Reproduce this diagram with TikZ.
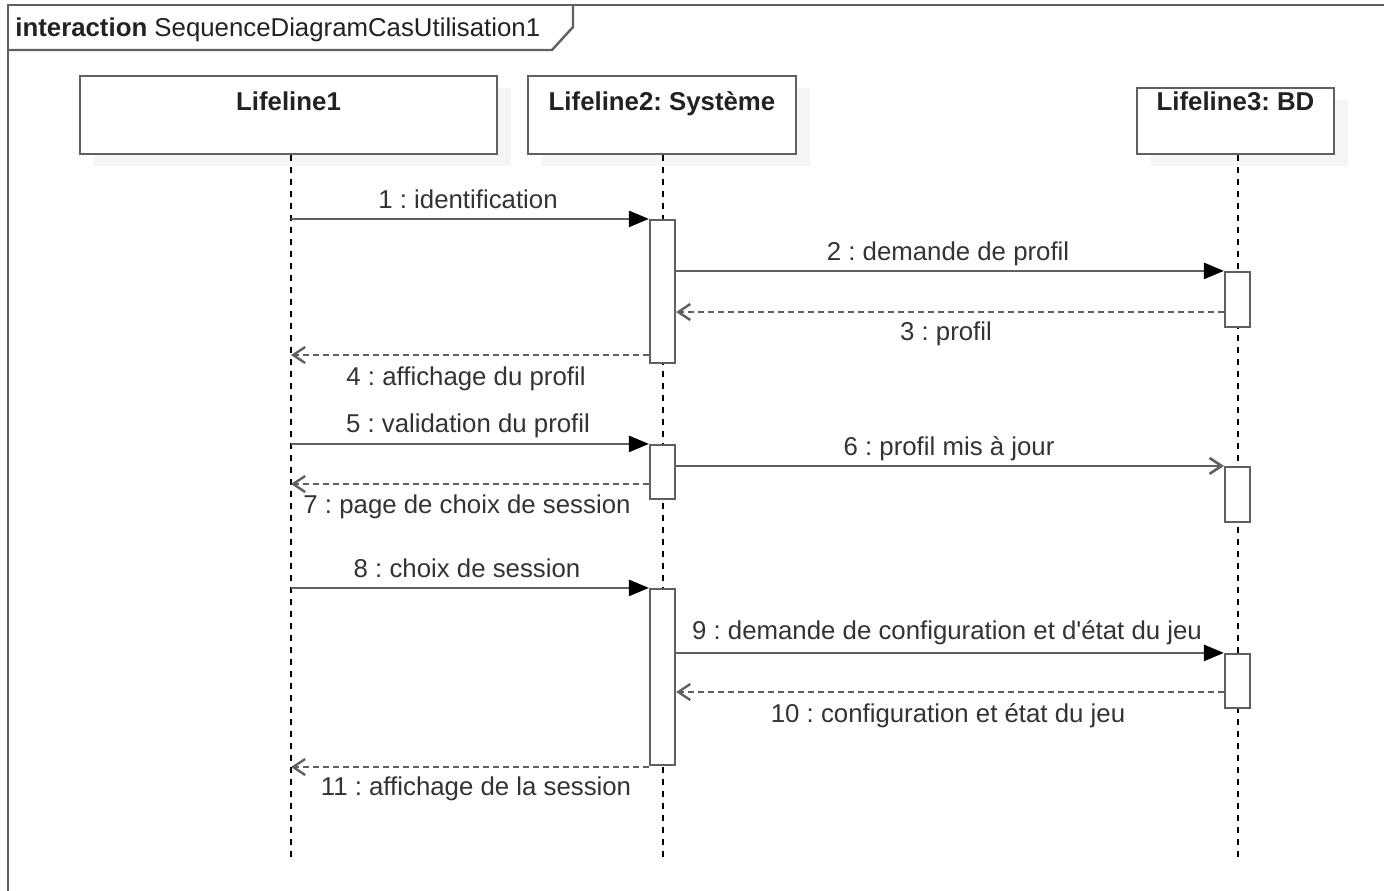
\documentclass[tikz,border=0pt]{standalone}
\usepackage{fontspec}
\setmainfont{Liberation Sans}[Ligatures=TeXOff]
\usetikzlibrary{arrows.meta,shadows}
\definecolor{ln}{HTML}{606060}
\definecolor{tx}{HTML}{333333}
\definecolor{hd}{HTML}{222222}
\begin{document}
\frenchspacing
\begin{tikzpicture}[x=0.5pt,y=-0.5pt,
  every node/.style={font=\fontsize{12.9}{15}\selectfont},
  head/.style={draw=ln, line width=1pt, fill=white, inner sep=0pt,
    drop shadow={shadow xshift=7pt, shadow yshift=-6pt, fill=black!4, opacity=1}},
  headtext/.style={text=hd, font=\fontsize{12.9}{15}\selectfont\bfseries, anchor=base, inner sep=0pt},
  lifeline/.style={line width=0.9pt, dash pattern=on 3pt off 3pt, black},
  act/.style={draw=ln, fill=white, line width=1.1pt, minimum width=12.5pt, inner sep=0pt},
  sync/.style={draw=ln, line width=1.3pt, -{Triangle[length=10pt,width=8pt,black]}},
  ret/.style={draw=ln, line width=1.2pt, dash pattern=on 3pt off 2pt, -{Straight Barb[length=6pt,width=8pt]}},
  async/.style={draw=ln, line width=1.3pt, -{Straight Barb[length=6pt,width=8pt]}},
  lbl/.style={text=tx, anchor=base, inner sep=0pt}]
\clip (0,0) rectangle (1384,890);
\fill[white] (0,0) rectangle (1384,890);
% frame
\draw[ln, line width=1.2pt] (1400,5) -- (8,5) -- (8,900);
\draw[ln, line width=1.2pt] (8,50) -- (552,50) -- (573,27) -- (573,5);
\node[anchor=base west, inner sep=0pt, text=hd] (title) at (15,36) {\textbf{interaction} SequenceDiagramCasUtilisation1};
% heads
\node[head, minimum width=208.5pt, minimum height=39pt] (h1) at (288.5,115) {};
\node[head, minimum width=134pt, minimum height=39pt] (h2) at (662,115) {};
\node[head, minimum width=98.5pt, minimum height=33pt] (h3) at (1235.5,121) {};
\node[headtext] (h1t) at (288.5,110) {Lifeline1};
\node[headtext] (h2t) at (662,110) {Lifeline2: Système};
\node[headtext] (h3t) at (1235.5,110) {Lifeline3: BD};
% lifelines
\coordinate (e1) at (291,858);
\coordinate (e2) at (663,858);
\coordinate (e3) at (1238,858);
\draw[lifeline] (h1.south -| e1) -- (e1);
\draw[lifeline] (h2.south -| e2) -- (e2);
\draw[lifeline] (h3.south -| e3) -- (e3);
% activations
\node[act, minimum height=71.5pt] (a1) at (662.5,291.5) {};
\node[act, minimum height=27.5pt] (a2) at (1237.5,299.5) {};
\node[act, minimum height=27pt] (a3) at (662.5,472) {};
\node[act, minimum height=27.5pt] (a4) at (1237.5,494.5) {};
\node[act, minimum height=88pt] (a5) at (662.5,677) {};
\node[act, minimum height=27pt] (a6) at (1237.5,681) {};
% message rows
\coordinate (y3) at (0,312);
\coordinate (y4) at (0,355);
\coordinate (y7) at (0,484);
\coordinate (y10) at (0,692);
\coordinate (y11) at (0,767);
% messages
\draw[sync] (e1 |- a1.north) -- (a1.north west);
\draw[sync] (a1.east |- a2.north) -- (a2.north west);
\draw[ret] (a2.west |- y3) -- (a1.east |- y3);
\draw[ret] (a1.west |- y4) -- (e1 |- y4);
\draw[sync] (e1 |- a3.north) -- (a3.north west);
\draw[async] (a3.east |- a4.north) -- (a4.north west);
\draw[ret] (a3.west |- y7) -- (e1 |- y7);
\draw[sync] (e1 |- a5.north) -- (a5.north west);
\draw[sync] (a5.east |- a6.north) -- (a6.north west);
\draw[ret] (a6.west |- y10) -- (a5.east |- y10);
\draw[ret] (a5.west |- y11) -- (e1 |- y11);
% labels
\node[lbl] (l1) at (468,208) {1 : identification};
\node[lbl] (l2) at (948,260) {2 : demande de profil};
\node[lbl] (l3) at (946,340) {3 : profil};
\node[lbl] (l4) at (466,385) {4 : affichage du profil};
\node[lbl] (l5) at (468,432) {5 : validation du profil};
\node[lbl] (l6) at (949,455) {6 : profil mis à jour};
\node[lbl] (l7) at (467,513) {7 : page de choix de session};
\node[lbl] (l8) at (467,577) {8 : choix de session};
\node[lbl] (l9) at (947,639) {9 : demande de configuration et d'état du jeu};
\node[lbl] (l10) at (948,722) {10 : configuration et état du jeu};
\node[lbl] (l11) at (476,795) {11 : affichage de la session};
\end{tikzpicture}
\end{document}
